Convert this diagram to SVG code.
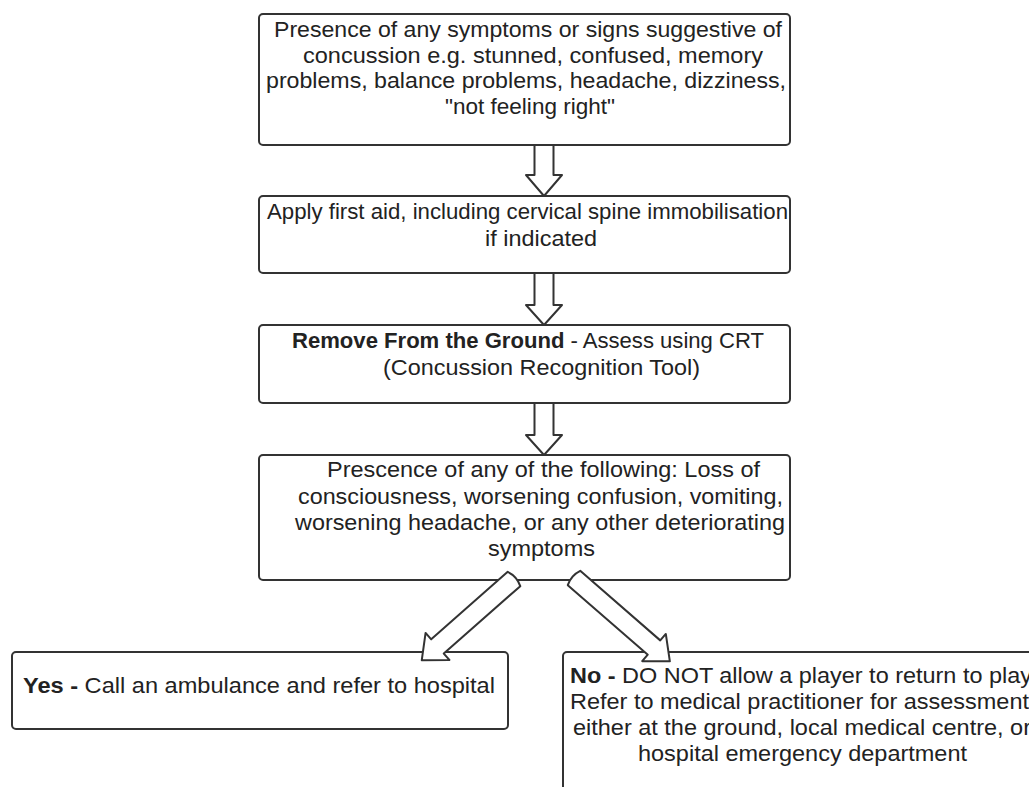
<svg xmlns="http://www.w3.org/2000/svg" width="1029" height="787" viewBox="0 0 1029 787">
<style>
.box{fill:#fff;stroke:#333;stroke-width:2}
.arr{fill:#fff;stroke:#333;stroke-width:2;stroke-linejoin:round}
text{font-family:"Liberation Sans",Arial,sans-serif;font-size:22px;fill:#222}
.b{font-weight:bold}
</style>
<rect width="1029" height="787" fill="#fff"/>
<g id="n1">
<rect class="box" x="259" y="14" width="531" height="131" rx="4"/>
<text x="274" y="37" textLength="508" lengthAdjust="spacingAndGlyphs">Presence of any symptoms or signs suggestive of</text>
<text x="303" y="62.5" textLength="460" lengthAdjust="spacingAndGlyphs">concussion e.g. stunned, confused, memory</text>
<text x="266" y="88" textLength="520" lengthAdjust="spacingAndGlyphs">problems, balance problems, headache, dizziness,</text>
<text x="445" y="113.5" textLength="170" lengthAdjust="spacingAndGlyphs">"not feeling right"</text>
</g>
<g id="n2">
<rect class="box" x="259" y="196" width="531" height="77" rx="4"/>
<text x="267" y="219" textLength="521" lengthAdjust="spacingAndGlyphs">Apply first aid, including cervical spine immobilisation</text>
<text x="485" y="246" textLength="112" lengthAdjust="spacingAndGlyphs">if indicated</text>
</g>
<g id="n3">
<rect class="box" x="259" y="325" width="531" height="78" rx="4"/>
<text x="292" y="348" textLength="472" lengthAdjust="spacingAndGlyphs"><tspan class="b">Remove From the Ground</tspan> - Assess using CRT</text>
<text x="383" y="375" textLength="317" lengthAdjust="spacingAndGlyphs">(Concussion Recognition Tool)</text>
</g>
<g id="n4">
<rect class="box" x="259" y="455" width="531" height="125" rx="4"/>
<text x="327" y="477" textLength="433" lengthAdjust="spacingAndGlyphs">Prescence of any of the following: Loss of</text>
<text x="298" y="504" textLength="485" lengthAdjust="spacingAndGlyphs">consciousness, worsening confusion, vomiting,</text>
<text x="295" y="530" textLength="490" lengthAdjust="spacingAndGlyphs">worsening headache, or any other deteriorating</text>
<text x="488" y="556" textLength="107" lengthAdjust="spacingAndGlyphs">symptoms</text>
</g>
<g id="n5">
<rect class="box" x="12" y="652" width="496" height="77" rx="4"/>
<text x="23" y="693" textLength="472" lengthAdjust="spacingAndGlyphs"><tspan class="b">Yes -</tspan> Call an ambulance and refer to hospital</text>
</g>
<g id="n6">
<rect class="box" x="563" y="652" width="490" height="150" rx="4"/>
<text x="570" y="683" textLength="462" lengthAdjust="spacingAndGlyphs"><tspan class="b">No -</tspan> DO NOT allow a player to return to play</text>
<text x="570" y="709" textLength="459" lengthAdjust="spacingAndGlyphs">Refer to medical practitioner for assessment</text>
<text x="573" y="735" textLength="458" lengthAdjust="spacingAndGlyphs">either at the ground, local medical centre, or</text>
<text x="638" y="761" textLength="329" lengthAdjust="spacingAndGlyphs">hospital emergency department</text>
</g>
<g id="connectors">
<polygon class="arr" points="534.5,145 553.5,145 553.5,175 562,175 544,196 526,175 534.5,175"/>
<polygon class="arr" points="534.5,273 553.5,273 553.5,305 562,305 544,325 526,305 534.5,305"/>
<polygon class="arr" points="534.5,403 553.5,403 553.5,435 562,435 544,455 526,435 534.5,435"/>
<path class="arr" transform="translate(514,579) rotate(138.6)" d="M0,-9.5 L102,-9.5 L102,-18 L123,0 L102,18 L102,9.5 L0,9.5 Q-4,0 0,-9.5 Z"/>
<path class="arr" transform="translate(574,578) rotate(41)" d="M0,-9.5 L106,-9.5 L106,-18 L127,0 L106,18 L106,9.5 L0,9.5 Q-4,0 0,-9.5 Z"/>
</g>
</svg>
